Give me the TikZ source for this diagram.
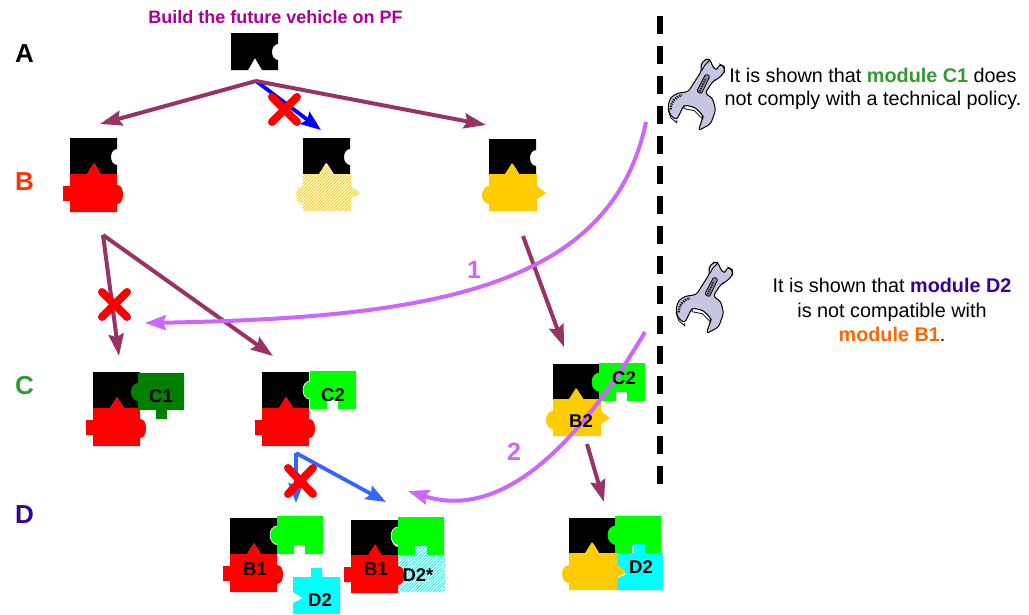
\documentclass[tikz,border=0pt]{standalone}
\usepackage{fontspec}
\setmainfont{Liberation Sans}
\usetikzlibrary{arrows.meta,patterns.meta}
\definecolor{maroonarrow}{HTML}{993366}
\definecolor{bluearrow}{HTML}{3366FF}
\definecolor{lilac}{HTML}{CC66FF}
\definecolor{gold}{HTML}{FFCC00}
\definecolor{titlemag}{HTML}{AA0099}
\definecolor{cgreen}{HTML}{339933}
\definecolor{dindigo}{HTML}{330099}
\definecolor{borange}{HTML}{FF6600}
\definecolor{bred}{HTML}{FF3300}
\definecolor{darkg}{HTML}{007F00}
\definecolor{wrenchc}{HTML}{C6C6E2}
\definecolor{purecyan}{HTML}{00FFFF}
\definecolor{puregreen}{HTML}{00FF00}
\definecolor{purered}{HTML}{FF0000}
\newcommand{\fs}[2]{\fontsize{#1}{#2}\selectfont}
\tikzset{
  x=1pt,y=-1pt,
  flow/.style={draw=maroonarrow,line width=4pt,-{Stealth[length=22pt,width=15pt,inset=3pt]}},
  bluerule/.style={draw=#1,line width=3.8pt,-{Stealth[length=20pt,width=15pt,inset=3pt]}},
  curved/.style={draw=lilac,line width=4pt,-{Stealth[length=21pt,width=15pt,inset=3pt]}},
  crossmark/.style={draw=purered,line width=8pt,line cap=round},
  rowlabel/.style={font=\fs{26}{26}\bfseries,inner sep=0pt},
  piecelabel/.style={font=\fs{18.5}{19}\bfseries,inner sep=0pt,text=black},
  bodytext/.style={inner sep=0pt,align=center},
  hatchgold/.style={preaction={fill=white},pattern={Lines[angle=45,distance=2.2pt,line width=.9pt]},pattern color=gold},
  hatchcyan/.style={preaction={fill=white},pattern={Lines[angle=45,distance=2.2pt,line width=.8pt]},pattern color=purecyan},
}
\newcommand{\blackpiece}[3]{\fill[black,shift={(#1,#2)}] (0,0) -- (47,0) -- (47,11)
  .. controls (43,11) and (41,15) .. (41,19) .. controls (41,23) and (43,27) .. (47,27)
  -- (47,#3) -- (31,#3) -- (24,25) -- (17,#3) -- (0,#3) -- cycle;}
\newcommand{\redpiece}[2]{\fill[purered,shift={(#1,#2)}] (0,0) -- (17,0) -- (24,-11) -- (31,0) -- (47,0) -- (47,11)
  .. controls (51,11) and (53,15) .. (53,20.5) .. controls (53,26) and (51,30) .. (47,30)
  -- (47,38) -- (0,38) -- (0,27) -- (-7,27) -- (-7,12) -- (0,12) -- cycle;}
\newcommand{\yellowpiece}[3]{\path[#1,shift={(#2,#3)}] (0,0) -- (16,0) -- (23,-11) -- (30,0) -- (48,0) -- (48,12)
  -- (57,19) -- (48,25) -- (48,37) -- (0,37) -- (0,30)
  .. controls (-4,30) and (-7,26) .. (-7,21) .. controls (-7,16) and (-4,12) .. (0,12) -- cycle;}
\newcommand{\greenpiece}[3]{\fill[puregreen,shift={(#1,#2)}] (0,0) -- (46,0) -- (46,38) -- (28,38) -- (28,29) -- (17,29) -- (17,38) -- (0,38) -- (0,28)
  .. controls (-4,28) and (-7,24) .. (-7,19) .. controls (-7,14) and (-4,10) .. (0,10) -- cycle;
  \draw[#3,line width=.6pt,shift={(#1,#2)}] (0,28) .. controls (-4,28) and (-7,24) .. (-7,19) .. controls (-7,14) and (-4,10) .. (0,10);}
\newcommand{\cyanpiece}[3]{\path[#1,shift={(#2,#3)}] (0,0) -- (18,0) -- (18,-9) -- (29,-9) -- (29,0) -- (47,0) -- (47,37) -- (0,37) -- (0,26) -- (10,21) -- (0,15) -- cycle;}
\newcommand{\wrench}[2]{\begin{scope}[shift={(#1,#2)},x=.3333pt,y=-.3333pt]
  \draw[fill=wrenchc,line width=1pt,rounded corners=3pt] (125,62) -- (122,45) -- (135,28) -- (150,28) -- (158,50) -- (170,62) -- (178,42) -- (193,50) -- (193,68) -- (172,88) -- (160,92) -- (135,130) -- (158,145) -- (167,180) -- (152,222) -- (115,242) -- (130,197) -- (105,172) -- (72,165) -- (50,210) -- (30,195) -- (24,170) -- (30,145) -- (50,130) -- (85,125) -- cycle;
  \draw[fill=wrenchc!70!black,line width=.8pt,rounded corners=2pt] (137,72) -- (150,78) -- (124,132) -- (110,124) -- cycle;
  \draw[line width=1.4pt,dash pattern=on 1.2pt off 1.2pt] (136,88) -- (119,124);
  \draw[line width=2.4pt,dash pattern=on 1.2pt off 1.2pt] (32,178) .. controls (33,155) and (44,142) .. (66,135);
  \draw[line width=.8pt] (125,62) -- (135,45) -- (150,30);
  \draw[line width=.8pt] (72,165) -- (72,176) -- (103,182) -- (128,207) -- (130,197);
  \draw[line width=.8pt] (24,178) -- (32,203) -- (50,218) -- (50,210);
\end{scope}}
\begin{document}
\begin{tikzpicture}
\useasboundingbox (0,0) rectangle (1029,614);
\coordinate (sepTop) at (660,16);
\coordinate (sepBot) at (660,484);
\draw[line width=5.5pt,dash pattern=on 18pt off 12pt] (sepTop) -- (sepBot);
\node[rowlabel,text=black] (rowA) at (24.5,54) {A};
\node[rowlabel,text=bred] (rowB) at (24.5,182) {B};
\node[rowlabel,text=cgreen] (rowC) at (24.5,386) {C};
\node[rowlabel,text=dindigo] (rowD) at (24.5,515) {D};
\node[font=\fs{18}{18}\bfseries,text=titlemag,inner sep=0pt] (title) at (275.5,17) {Build the future vehicle on PF};
\blackpiece{231}{33}{37}
\blackpiece{70}{138}{36}\redpiece{70}{174}
\blackpiece{303}{138}{36}\yellowpiece{hatchgold}{303}{174}
\blackpiece{489}{139}{36}\yellowpiece{fill=gold}{489}{174}
\blackpiece{93}{372}{36}\redpiece{93}{408}
\fill[darkg,shift={(138,373)}] (0,0) -- (46,0) -- (46,37) -- (29,37) -- (29,46) -- (18,46) -- (18,37) -- (0,37) -- (0,28)
  .. controls (-4,28) and (-7,24) .. (-7,19) .. controls (-7,14) and (-4,10) .. (0,10) -- cycle;
\blackpiece{262}{372}{36}\redpiece{262}{408}\greenpiece{310}{371}{white}
\blackpiece{553}{364}{36}\yellowpiece{fill=gold}{553}{399}\greenpiece{599}{363}{puregreen}
\blackpiece{230}{518}{36}\redpiece{230}{554}\greenpiece{277}{516}{white}
\cyanpiece{fill=purecyan}{293}{577}
\blackpiece{351}{520}{36}\cyanpiece{hatchcyan}{398}{555}\redpiece{351}{555}\greenpiece{398}{517}{white}
\path[hatchcyan] (416,546) rectangle (427,555);
\blackpiece{569}{518}{36}\greenpiece{615}{516}{puregreen}\cyanpiece{fill=purecyan}{616}{553}\yellowpiece{fill=gold}{569}{553}
\coordinate (aOut) at (256,81);
\coordinate (bLeftIn) at (100,124);
\coordinate (bMidIn) at (321,130);
\coordinate (bRightIn) at (486,125);
\coordinate (bOut) at (103,235);
\coordinate (cLeftIn) at (119,356);
\coordinate (cMidIn) at (273,356);
\coordinate (bRightOut) at (523,236);
\coordinate (cRightIn) at (564,347);
\coordinate (cRightOut) at (587,444);
\coordinate (dRightIn) at (604,502);
\coordinate (cMidOut) at (296,453);
\coordinate (dLeftIn) at (296,503);
\coordinate (dMidIn) at (386,502);
\draw[bluerule=blue] (aOut) -- (bMidIn);
\draw[flow] (aOut) -- (bLeftIn);
\draw[flow] (aOut) -- (bRightIn);
\draw[flow] (bOut) -- (cLeftIn);
\draw[flow] (bOut) -- (cMidIn);
\draw[flow] (bRightOut) -- (cRightIn);
\draw[flow] (cRightOut) -- (dRightIn);
\draw[bluerule=bluearrow] (cMidOut) -- (dLeftIn);
\draw[bluerule=bluearrow] (cMidOut) -- (dMidIn);
\coordinate (x1a) at (272,97); \coordinate (x1b) at (297,122);
\coordinate (x1c) at (297,97); \coordinate (x1d) at (272,122);
\draw[crossmark] (x1a) -- (x1b); \draw[crossmark] (x1c) -- (x1d);
\coordinate (x2a) at (102,292); \coordinate (x2b) at (127,317);
\coordinate (x2c) at (127,292); \coordinate (x2d) at (102,317);
\draw[crossmark] (x2a) -- (x2b); \draw[crossmark] (x2c) -- (x2d);
\coordinate (x3a) at (288,468); \coordinate (x3b) at (313,494);
\coordinate (x3c) at (313,468); \coordinate (x3d) at (288,494);
\draw[crossmark] (x3a) -- (x3b); \draw[crossmark] (x3c) -- (x3d);
\coordinate (noteOne) at (646,122);
\coordinate (targetOne) at (145,323);
\coordinate (noteTwo) at (645,332);
\coordinate (targetTwo) at (408,491);
\draw[curved] (noteOne) .. controls (612,285) and (440,318) .. (targetOne);
\draw[curved] (noteTwo) .. controls (575,450) and (500,520) .. (targetTwo);
\node[font=\fs{25}{25}\bfseries,text=lilac,inner sep=0pt] (numOne) at (474,270) {1};
\node[font=\fs{25}{25}\bfseries,text=lilac,inner sep=0pt] (numTwo) at (514,452) {2};
\node[piecelabel] (lc1) at (161,396) {C1};
\node[piecelabel] (lc2) at (333,395) {C2};
\node[piecelabel] (lc3) at (624,378) {C2};
\node[piecelabel] (lb2) at (581,421) {B2};
\node[piecelabel] (lb1a) at (255,569) {B1};
\node[piecelabel] (ld2a) at (320,600) {D2};
\node[piecelabel] (lb1b) at (376,569) {B1};
\node[piecelabel] (ld2s) at (418,575) {D2*};
\node[piecelabel] (ld2b) at (641,567) {D2};
\wrench{660}{50}
\wrench{668}{253}
\node[bodytext,font=\fs{19.8}{23.5}] (noteA) at (873,89) {It is shown that \textcolor{cgreen}{\bfseries module C1} does\\not comply with a technical policy.};
\node[bodytext,font=\fs{19.8}{24.5}] (noteB) at (892,310) {It is shown that \textcolor{dindigo}{\bfseries module D2}\\is not compatible with\\\textcolor{borange}{\bfseries module B1}.};
\end{tikzpicture}
\end{document}
